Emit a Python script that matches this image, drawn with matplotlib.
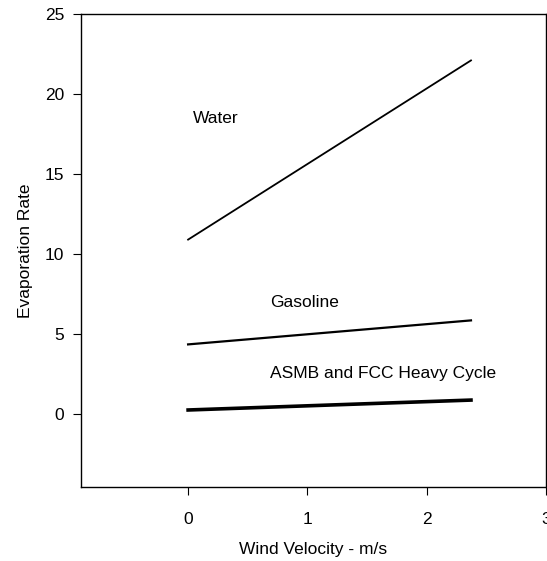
import matplotlib.pyplot as plt

plt.rcParams['font.family'] = ['Liberation Sans', 'DejaVu Sans']

# wind velocity (m/s) at the line ends
wind = [0, 2.37]
water = [10.9, 22.1]
gasoline = [4.35, 5.85]
asmb = [0.25, 0.87]

series_names = ["Water", "Gasoline", "ASMB and FCC Heavy Cycle"]
label_pos = [(0.04, 18.5), (0.69, 7.0), (0.69, 2.5)]

fig = plt.figure(figsize=(5.47, 5.61), dpi=100)
ax = fig.add_axes([0.1475, 0.132, 0.851, 0.843])

ax.plot(wind, water, color='black', lw=1.3)
ax.plot(wind, gasoline, color='black', lw=1.6)
ax.plot(wind, asmb, color='black', lw=2.6)

for name, (x, y) in zip(series_names, label_pos):
	ax.text(x, y, name, fontsize=12.5, va='center', ha='left')

ax.set_xlim(-0.9, 3.0)
ax.set_ylim(-4.56, 25)
ax.set_xticks([0, 1, 2, 3])
ax.set_yticks([0, 5, 10, 15, 20, 25])
ax.tick_params(direction='out', length=6, width=0.8, labelsize=12.5, pad=6)
ax.tick_params(axis='x', pad=12)
for s in ax.spines.values():
	s.set_linewidth(1.0)

ax.set_xlabel("Wind Velocity - m/s", fontsize=12.5, labelpad=11)
ax.set_ylabel("Evaporation Rate", fontsize=12.5, labelpad=8)

fig.savefig("out.png", dpi=100)
